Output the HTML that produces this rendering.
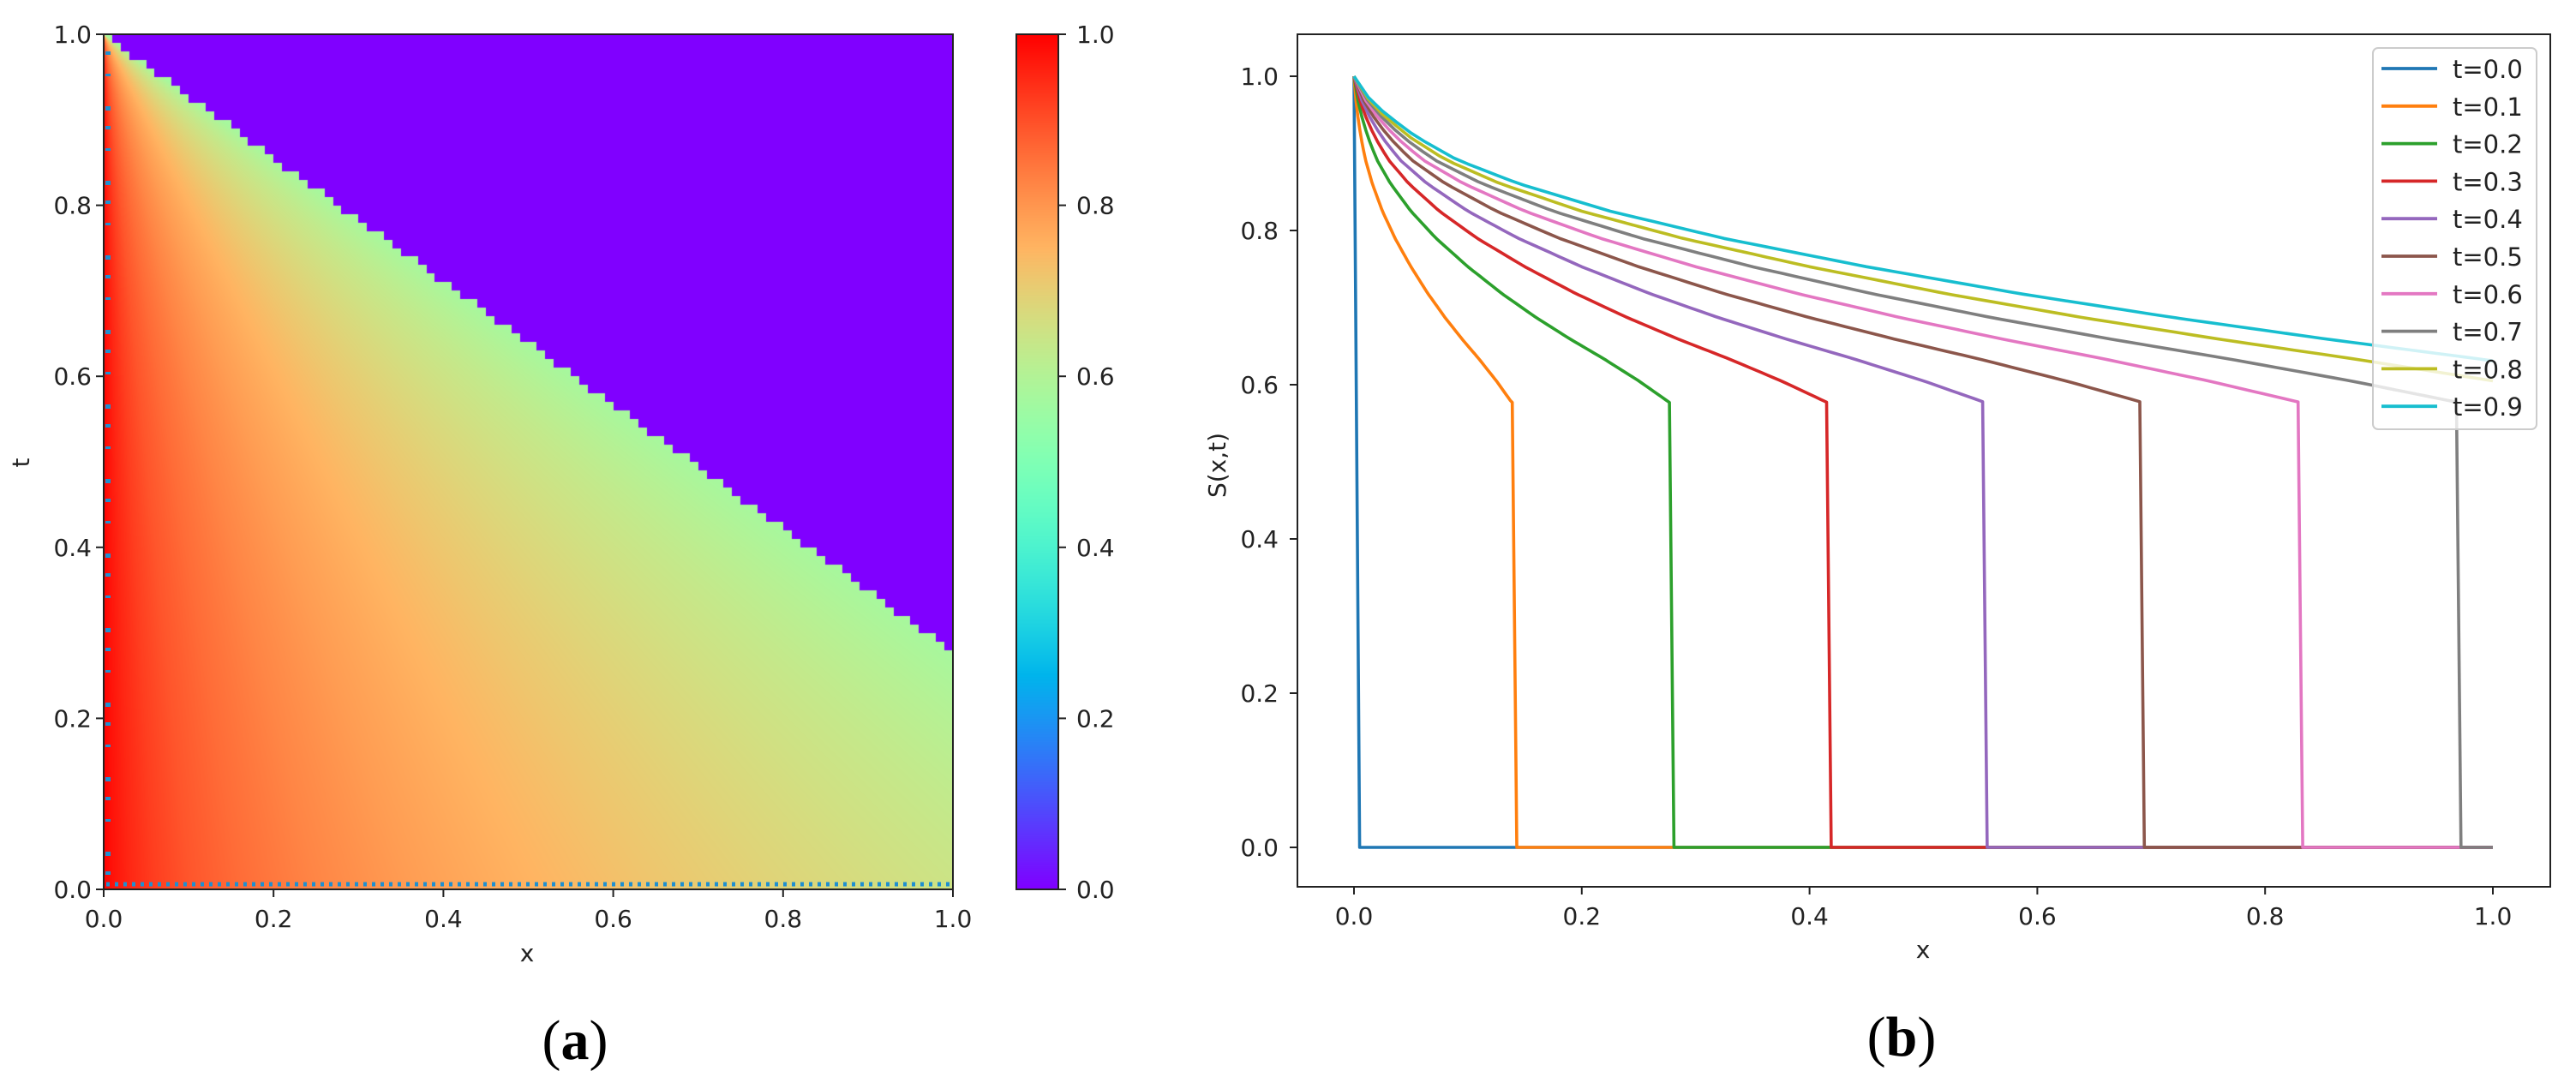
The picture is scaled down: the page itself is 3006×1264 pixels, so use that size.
<!DOCTYPE html>
<html><head><meta charset="utf-8">
<style>
html,body{margin:0;padding:0;background:#fff;}
body{width:3006px;height:1264px;overflow:hidden;position:relative;font-family:"DejaVu Sans","Liberation Sans",sans-serif;}
svg{position:absolute;left:0;top:0;}
canvas{position:absolute;}
</style></head>
<body>
<canvas id="heat" style="left:121px;top:40px" width="991" height="998"></canvas>
<canvas id="cbar" style="left:1186px;top:40px" width="49" height="998"></canvas>
<svg id="svg" width="3006" height="1264" xmlns="http://www.w3.org/2000/svg"></svg>
<script>
// ---- data ----
const profileEta = [0,0.01,0.03,0.06,0.1,0.16,0.25,0.36,0.5,0.65,0.8,0.95,1.1,1.25,1.385];
const profileS   = [1,0.978,0.952,0.922,0.892,0.861,0.825,0.79,0.753,0.718,0.687,0.659,0.633,0.605,0.577];
const times      = [0.0,0.1,0.2,0.3,0.4,0.5,0.6,0.7,0.8,0.9];
const frontX     = [0.005,0.139,0.277,0.415,0.552,0.690,0.829,0.968,1.108,1.246];
const seriesColors = ['#1f77b4','#ff7f0e','#2ca02c','#d62728','#9467bd','#8c564b','#e377c2','#7f7f7f','#bcbd22','#17becf'];
const tickLabels = ['0.0','0.2','0.4','0.6','0.8','1.0'];
const tickVals = [0,0.2,0.4,0.6,0.8,1.0];
const gridN = 100;

function g(eta){
  if(eta<=0) return profileS[0];
  const last=profileEta.length-1;
  if(eta>profileEta[last]) return null;
  for(let i=1;i<=last;i++){ if(eta<=profileEta[i]){const f=(eta-profileEta[i-1])/(profileEta[i]-profileEta[i-1]);return profileS[i-1]+f*(profileS[i]-profileS[i-1]);}}
  return profileS[last];
}
function rainbow(v){
  const r=Math.min(1,Math.abs(2*v-0.5)), gg=Math.sin(Math.PI*v), b=Math.cos(Math.PI*v/2);
  return [Math.round(r*255),Math.round(gg*255),Math.round(b*255)];
}
const NS='http://www.w3.org/2000/svg';
const svg=document.getElementById('svg');
function el(tag,attrs,parent){const e=document.createElementNS(NS,tag);for(const k in attrs)e.setAttribute(k,attrs[k]);(parent||svg).appendChild(e);return e;}
function txt(s,attrs,parent){const e=el('text',attrs,parent);e.textContent=s;return e;}

// ---- heatmap ----
const HX0=121,HX1=1112,HY0=40,HY1=1038;
const hx=v=>HX0+v*(HX1-HX0), hy=v=>HY1-v*(HY1-HY0);
(function(){
  const c=document.getElementById('heat'),ctx=c.getContext('2d');
  const W=c.width,H=c.height,img=ctx.createImageData(W,H);
  const frontSlope=profileEta[profileEta.length-1];
  for(let py=0;py<H;py++){
    const t=1-(py+0.5)/H; const tc=1-(Math.floor(t*gridN)+0.5)/gridN;
    for(let px=0;px<W;px++){
      const x=(px+0.5)/W; const xc=(Math.floor(x*gridN)+0.5)/gridN;
      let v;
      if(xc>frontSlope*tc) v=0; else {const s=g(x/Math.max(1-t,1e-6)); v=(s===null)?profileS[profileS.length-1]:s;}
      const col=rainbow(v),i=(py*W+px)*4;
      img.data[i]=col[0];img.data[i+1]=col[1];img.data[i+2]=col[2];img.data[i+3]=255;
    }
  }
  ctx.putImageData(img,0,0);
  const cb=document.getElementById('cbar'),c2=cb.getContext('2d');
  for(let py=0;py<cb.height;py++){const col=rainbow(1-py/(cb.height-1));c2.fillStyle='rgb('+col+')';c2.fillRect(0,py,cb.width,1);}
})();
const heatAx=el('g',{});


el('line',{x1:hx(0)+3,x2:hx(1),y1:HY1-6,y2:HY1-6,stroke:'#1f8fd0','stroke-width':5,'stroke-dasharray':'4 6'},heatAx);
el('line',{x1:hx(0)+5,x2:hx(0)+5,y1:HY0+20,y2:HY1,stroke:'#1f8fd0','stroke-width':6,'stroke-dasharray':'4 22 3 35 5 18'},heatAx);
el('rect',{x:HX0,y:HY0,width:HX1-HX0,height:HY1-HY0,fill:'none',stroke:'#222','stroke-width':2},heatAx);
tickVals.forEach((v,i)=>{
  el('line',{x1:hx(v),x2:hx(v),y1:HY1,y2:HY1+9,stroke:'#222','stroke-width':2},heatAx);
  const a=txt(tickLabels[i],{x:hx(v),y:HY1+44,'font-size':28,'text-anchor':'middle',fill:'#222'},heatAx);
  
  
  el('line',{x1:HX0-9,x2:HX0,y1:hy(v),y2:hy(v),stroke:'#222','stroke-width':2},heatAx);
  const b=txt(tickLabels[i],{x:HX0-14,y:hy(v)+10,'font-size':28,'text-anchor':'end',fill:'#222'},heatAx);
  
  
  const cy=HY1-v*(HY1-HY0);
  el('line',{x1:1235,x2:1244,y1:cy,y2:cy,stroke:'#222','stroke-width':2},heatAx);
  const c=txt(tickLabels[i],{x:1256,y:cy+10,'font-size':28,fill:'#222'},heatAx);
  
  
});
el('rect',{x:1186,y:HY0,width:49,height:HY1-HY0,fill:'none',stroke:'#222','stroke-width':2},heatAx);
const xl=txt('x',{x:615,y:1122,'font-size':28,'text-anchor':'middle',fill:'#222'});


const yl=txt('t',{x:0,y:0,'font-size':28,'text-anchor':'middle',fill:'#222',transform:'translate(34,540) rotate(-90)'});


const pa=txt('',{x:671,y:1236,'font-size':66,'text-anchor':'middle','font-family':'Liberation Serif, serif',fill:'#000'});
pa.innerHTML='(<tspan font-weight="bold">a</tspan>)';



// ---- line chart ----
const LX0=1514,LX1=2976,LY0=40,LY1=1035;
const lx=v=>1580+v*(2909-1580), ly=v=>989-v*900;
const lineAx=el('g',{});


times.forEach((t,k)=>{
  const pts=[];
  if(t===0){pts.push([0,1],[frontX[0],0],[1,0]);}
  else{
    const xf=frontX[k];
    for(let i=0;i<=80;i++){
      const x=Math.min(xf,1)*i/80; const s=g(x/t); if(s!==null) pts.push([x,s]);
    }
    if(xf<=1){pts.push([xf,profileS[profileS.length-1]],[xf+0.004,0],[1,0]);}
  }
  const p=el('polyline',{points:pts.map(q=>lx(q[0]).toFixed(1)+','+ly(q[1]).toFixed(1)).join(' '),fill:'none',stroke:seriesColors[k],'stroke-width':3.6,'stroke-linejoin':'round'},lineAx);
  
  
});
el('rect',{x:LX0,y:LY0,width:LX1-LX0,height:LY1-LY0,fill:'none',stroke:'#222','stroke-width':2},lineAx);
tickVals.forEach((v,i)=>{
  el('line',{x1:lx(v),x2:lx(v),y1:LY1,y2:LY1+9,stroke:'#222','stroke-width':2},lineAx);
  const a=txt(tickLabels[i],{x:lx(v),y:LY1+44,'font-size':28,'text-anchor':'middle',fill:'#222'},lineAx);
  
  
  el('line',{x1:LX0-9,x2:LX0,y1:ly(v),y2:ly(v),stroke:'#222','stroke-width':2},lineAx);
  const b=txt(tickLabels[i],{x:1492,y:ly(v)+10,'font-size':28,'text-anchor':'end',fill:'#222'},lineAx);
  
  
});
const xl2=txt('x',{x:2244,y:1118,'font-size':28,'text-anchor':'middle',fill:'#222'});


const yl2=txt('S(x,t)',{x:0,y:0,'font-size':28,'text-anchor':'middle',fill:'#222',transform:'translate(1430,543) rotate(-90)'});


const pb=txt('',{x:2219,y:1232,'font-size':66,'text-anchor':'middle','font-family':'Liberation Serif, serif',fill:'#000'});
pb.innerHTML='(<tspan font-weight="bold">b</tspan>)';


// legend
const leg=el('g',{});


el('rect',{x:2769,y:56,width:191,height:445,rx:6,fill:'#fff','fill-opacity':0.8,stroke:'#ccc','stroke-width':2},leg);
times.forEach((t,k)=>{
  const y=80+k*43.8;
  const e=el('g',{},leg);
  
  
  el('line',{x1:2779,x2:2844,y1:y,y2:y,stroke:seriesColors[k],'stroke-width':3.8},e);
  txt('t='+t.toFixed(1),{x:2862,y:y+11,'font-size':29,fill:'#222'},e);
});
</script>
</body></html>
